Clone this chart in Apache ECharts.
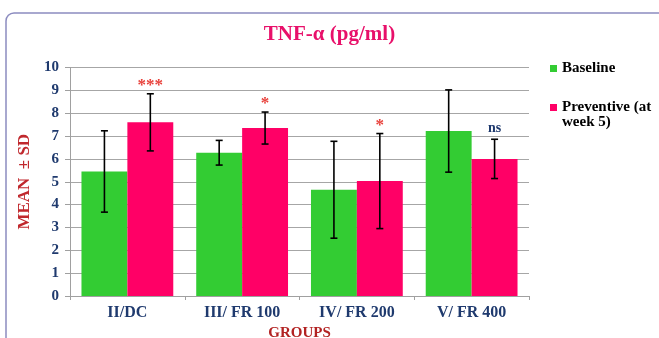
<!DOCTYPE html>
<html>
<head>
<meta charset="utf-8">
<script src="https://cdn.jsdelivr.net/npm/echarts@6/dist/echarts.min.js"></script>
<style>
html,body{margin:0;padding:0;background:#fff;}
#chart{width:659px;height:338px;}
</style>
</head>
<body>
<div id="chart"></div>
<script>
const categories = ['II/DC', 'III/ FR 100', 'IV/ FR 200', 'V/ FR 400'];
const baselineMean = [5.45, 6.27, 4.65, 7.22];
const baselineSD = [1.78, 0.54, 2.12, 1.80];
const preventiveMean = [7.60, 7.35, 5.03, 6.00];
const preventiveSD = [1.25, 0.70, 2.08, 0.86];
const significance = ['***', '*', '*', 'ns'];
const seriesNames = ['Baseline', 'Preventive (at week 5)'];

const SERIF = '"Liberation Serif", "DejaVu Serif", serif';
const NAVY = '#1F3A6E';
const GREEN = '#33CC33';
const PINK = '#FF0066';

function errData(means, sds, labels) {
  return means.map((m, i) => [i, m - sds[i], m + sds[i], labels ? labels[i] : '']);
}

function makeErrRender(side) {
  return function (params, api) {
    const idx = api.value(0);
    const low = api.coord([idx, api.value(1)]);
    const high = api.coord([idx, api.value(2)]);
    const catW = api.size([1, 0])[0];
    const barW = catW * 0.8 / 2;
    const x = low[0] + side * barW / 2;
    const cap = 3.5;
    const style = { stroke: '#000', lineWidth: 1.6 };
    const children = [
      { type: 'line', shape: { x1: x, y1: high[1], x2: x, y2: low[1] }, style },
      { type: 'line', shape: { x1: x - cap, y1: high[1], x2: x + cap, y2: high[1] }, style },
      { type: 'line', shape: { x1: x - cap, y1: low[1], x2: x + cap, y2: low[1] }, style }
    ];
    const lab = api.value(3);
    if (lab) {
      const isNs = lab === 'ns';
      children.push({
        type: 'text',
        style: {
          x: x,
          y: isNs ? high[1] - 11 : high[1] - 8,
          text: lab,
          align: 'center',
          verticalAlign: 'middle',
          fill: isNs ? NAVY : '#E8403A',
          font: isNs ? 'bold 14px ' + SERIF : 'bold 17px ' + SERIF
        }
      });
    }
    return { type: 'group', children };
  };
}

const chart = echarts.init(document.getElementById('chart'), null, { renderer: 'canvas' });
chart.setOption({
  animation: false,
  backgroundColor: '#fff',
  title: {
    text: 'TNF-α (pg/ml)',
    left: 'center',
    top: 24,
    padding: 0,
    textStyle: { fontFamily: SERIF, fontWeight: 'bold', fontSize: 21, color: '#E8106A' }
  },
  graphic: [{
    type: 'rect',
    shape: { x: 6, y: 13, width: 700, height: 380, r: 8 },
    style: { fill: 'none', stroke: '#8C8CC0', lineWidth: 1.5 },
    silent: true
  }],
  legend: [{
    data: [seriesNames[0]],
    left: 550, top: 61,
    padding: 0,
    orient: 'vertical',
    icon: 'rect', itemWidth: 7, itemHeight: 7, itemGap: 4,
    textStyle: { fontFamily: SERIF, fontWeight: 'bold', fontSize: 15, color: '#000' }
  }, {
    data: [seriesNames[1]],
    left: 550, top: 100,
    padding: 0,
    orient: 'vertical',
    icon: 'path://M0,0H7V7H0Z M0,22H0.01V22.01H0Z', itemWidth: 7, itemHeight: 22, itemGap: 4,
    formatter: () => 'Preventive (at\nweek 5)',
    textStyle: { fontFamily: SERIF, fontWeight: 'bold', fontSize: 15, lineHeight: 15, color: '#000' }
  }],
  grid: { left: 70, right: 130, top: 67.5, bottom: 42, containLabel: false, outerBoundsMode: 'none' },
  xAxis: {
    type: 'category',
    data: categories,
    name: 'GROUPS',
    nameLocation: 'middle',
    nameGap: 27,
    nameTextStyle: { fontFamily: SERIF, fontWeight: 'bold', fontSize: 15, color: '#B22222' },
    axisLine: { lineStyle: { color: '#A0A0A0', width: 1 } },
    axisTick: { show: true, length: 4, lineStyle: { color: '#A0A0A0' } },
    axisLabel: { fontFamily: SERIF, fontWeight: 'bold', fontSize: 16, color: NAVY, margin: 9 }
  },
  yAxis: {
    type: 'value',
    min: 0, max: 10, interval: 1,
    name: 'MEAN  ± SD',
    nameLocation: 'middle',
    nameGap: 32,
    nameTextStyle: { fontFamily: SERIF, fontWeight: 'bold', fontSize: 17, color: '#C0282D' },
    axisLine: { show: true, lineStyle: { color: '#A0A0A0', width: 1 } },
    axisTick: { show: true, length: 5, lineStyle: { color: '#A0A0A0' } },
    axisLabel: { fontFamily: SERIF, fontWeight: 'bold', fontSize: 15, color: NAVY, margin: 11 },
    splitLine: { show: true, lineStyle: { color: '#A6A6A6', width: 1 } }
  },
  series: [{
    name: seriesNames[0],
    type: 'bar',
    data: baselineMean,
    itemStyle: { color: GREEN },
    barGap: '0%',
    barCategoryGap: '20%'
  }, {
    name: seriesNames[1],
    type: 'bar',
    data: preventiveMean,
    itemStyle: { color: PINK },
    barGap: '0%',
    barCategoryGap: '20%'
  }, {
    name: 'errBaseline',
    type: 'custom',
    renderItem: makeErrRender(-1),
    encode: { x: 0, y: [1, 2] },
    data: errData(baselineMean, baselineSD, null),
    z: 10
  }, {
    name: 'errPreventive',
    type: 'custom',
    renderItem: makeErrRender(1),
    encode: { x: 0, y: [1, 2] },
    data: errData(preventiveMean, preventiveSD, significance),
    z: 10
  }]
});
</script>
</body>
</html>
